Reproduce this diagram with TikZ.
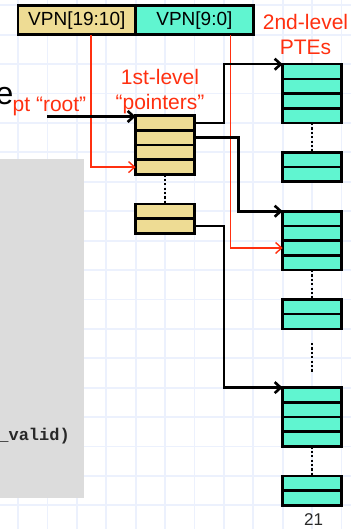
\documentclass[tikz,border=0pt]{standalone}
\usepackage{fontspec}
\setmainfont{Liberation Sans}
\newfontfamily\codefont{Liberation Mono}
\usetikzlibrary{arrows.meta}
\definecolor{tanc}{RGB}{238,220,148}
\definecolor{tealc}{RGB}{96,245,208}
\definecolor{redc}{RGB}{255,48,16}
\definecolor{gridc}{RGB}{236,241,253}
\definecolor{grayc}{RGB}{220,220,220}
\definecolor{darkc}{RGB}{40,40,40}
\begin{document}
\begin{tikzpicture}[x=1pt,y=-1pt,
  cell/.style={draw=black,line width=2.6pt,minimum width=58.8pt,minimum height=14.7pt,inner sep=0pt,outer sep=0pt},
  tancell/.style={cell,fill=tanc},
  pte/.style={cell,fill=tealc},
  vpn/.style={draw=black,line width=2.6pt,minimum width=117.6pt,minimum height=29.4pt,inner sep=0pt,font=\fontsize{19}{22}\selectfont},
  conn/.style={line width=2.6pt,-{Straight Barb[length=6pt,width=11pt]}},
  redconn/.style={draw=redc,line width=1.4pt,-{Straight Barb[length=6pt,width=11pt]}},
  dots/.style={line width=2.4pt,dash pattern=on 2.2pt off 2.2pt},
  redlab/.style={text=redc,font=\fontsize{21}{25}\selectfont,inner sep=0pt},
]
\useasboundingbox (0,0) rectangle (351,529);
\clip (0,0) rectangle (351,529);
\fill[white] (0,0) rectangle (351,529);
% background grid
\foreach \k in {0,...,11} \draw[gridc,line width=1.8pt] ({18+29.4*\k},0) -- ++(0,529);
\foreach \k in {0,...,17} \draw[gridc,line width=1.8pt] (0,{5.4+29.4*\k}) -- ++(351,0);
% gray code panel
\fill[grayc] (-5,159) rectangle (84,498);
\node[anchor=base east,inner sep=0pt,text=darkc,font=\codefont\bfseries\fontsize{17}{20}\selectfont] (code) at (70,440) {\_valid)};
\node[anchor=base east,inner sep=0pt,font=\fontsize{32}{36}\selectfont] (ebit) at (13.5,105) {e};

% virtual page number fields
\node[vpn,fill=tanc] (v1) at (76.8,20.1) {VPN[19:10]};
\node[vpn,fill=tealc] (v2) at (194.4,20.1) {VPN[9:0]};

% first-level table
\node[tancell] (f1) at (165,123) {};
\node[tancell] (f2) at (165,137.7) {};
\node[tancell] (f3) at (165,152.4) {};
\node[tancell] (f4) at (165,167.1) {};
\node[tancell] (s1) at (165,211.2) {};
\node[tancell] (s2) at (165,225.9) {};

% second-level tables
\foreach \n/\y in {p11/71.55,p12/86.25,p13/100.95,p14/115.65,p15/159.75,p16/174.45,
                   p21/218.55,p22/233.25,p23/247.95,p24/262.65,p25/306.75,p26/321.45,
                   p31/394.95,p32/409.65,p33/424.35,p34/439.05,p35/483.15,p36/497.85}
  \node[pte] (\n) at (312,\y) {};

% dotted continuation marks
\coordinate (d1) at (312,343);
\coordinate (d2) at (312,373);
\draw[dots] (f4.south) -- (s1.north);
\draw[dots] (p14.south) -- (p15.north);
\draw[dots] (p24.south) -- (p25.north);
\draw[dots] (d1) -- (d2);
\draw[dots] (p34.south) -- (p35.north);

% red index lines
\coordinate (ra) at (91,34.8);
\coordinate (rb) at (230.5,34.8);
\draw[redconn] (ra) |- (f4.west);
\draw[redconn] (rb) |- (p23.west);

% black pointer connectors
\coordinate (ja) at (223.8,0);
\coordinate (jb) at (238.5,0);
\coordinate (rootstart) at (47,116.5);
\draw[conn] (rootstart) -- (f1.north west |- rootstart);
\draw[conn] (f1.east) -- (f1.east -| ja) |- (p11.north west);
\draw[conn] (f2.east) -- (f2.east -| jb) |- (p21.north west);
\draw[conn] (s2.east) -- (s2.east -| ja) |- (p31.north west);

% labels
\node[redlab,anchor=base] (l1a) at (160,85) {1st-level};
\node[redlab,anchor=base] (l1b) at (160,110) {“pointers”};
\node[redlab,anchor=base] (l2a) at (305.5,30) {2nd-level};
\node[redlab,anchor=base] (l2b) at (305.5,55) {PTEs};
\node[redlab,anchor=base west] (lr) at (12.5,111.5) {pt “root”};
\node[anchor=base,inner sep=0pt,text=darkc,font=\fontsize{17}{20}\selectfont] (pg) at (313.5,525.5) {21};
\end{tikzpicture}
\end{document}
